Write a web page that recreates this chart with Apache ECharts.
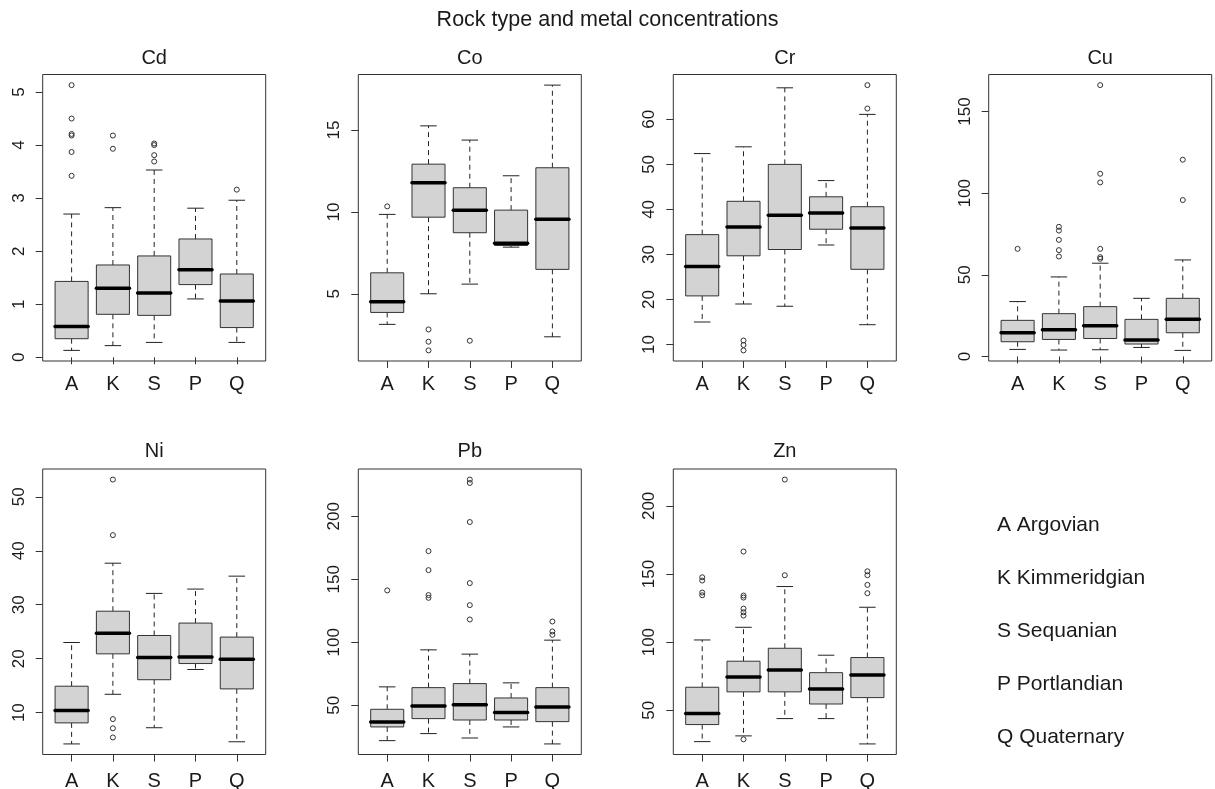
<!DOCTYPE html>
<html><head><meta charset="utf-8">
<script src="https://cdn.jsdelivr.net/npm/echarts@6/dist/echarts.min.js"></script>
<style>html,body{margin:0;padding:0;background:#fff}#c{width:1215px;height:789px}</style>
</head><body><div id="c"></div>
<script>
// ---------------- data ----------------
const categories = ['A', 'K', 'S', 'P', 'Q'];
const rockNames = ['Argovian', 'Kimmeridgian', 'Sequanian', 'Portlandian', 'Quaternary'];
const mainTitle = 'Rock type and metal concentrations';
const metals = ['Cd', 'Co', 'Cr', 'Cu', 'Ni', 'Pb', 'Zn'];

// per category: [lower whisker, Q1, median, Q3, upper whisker]
const cdBoxes = [[0.13,0.35,0.58,1.43,2.70],[0.22,0.81,1.30,1.74,2.82],[0.28,0.79,1.21,1.91,3.53],[1.10,1.37,1.65,2.23,2.81],[0.28,0.56,1.06,1.57,2.96]];
const cdOutliers = [[5.13,4.50,4.21,4.18,3.87,3.42],[4.18,3.93],[4.03,4.00,3.81,3.69],[],[3.16]];
const cdTicks = [0,1,2,3,4,5];

const coBoxes = [[3.13,3.86,4.51,6.28,9.85],[5.00,9.68,11.78,12.92,15.26],[5.59,8.73,10.11,11.48,14.39],[7.85,7.95,8.08,10.11,12.21],[2.37,6.49,9.56,12.70,17.75]];
const coOutliers = [[10.34],[2.82,2.07,1.54],[2.13],[],[]];
const coTicks = [5,10,15];

const crBoxes = [[15.0,20.8,27.3,34.4,52.4],[19.0,29.7,36.1,41.8,53.9],[18.5,31.1,38.7,50.0,67.0],[32.1,35.6,39.2,42.8,46.4],[14.4,26.7,35.9,40.6,61.1]];
const crOutliers = [[],[10.9,9.9,8.7],[],[],[67.6,62.4]];
const crTicks = [10,20,30,40,50,60];

const cuBoxes = [[4.3,9.0,14.5,22.1,33.6],[3.9,10.4,16.4,26.2,48.7],[4.1,11.0,18.8,30.5,57.1],[5.5,7.6,10.0,22.7,35.6],[3.7,14.5,22.7,35.6,59.1]];
const cuOutliers = [[65.9],[79.4,77.1,71.4,65.1,61.2],[166.2,111.9,106.6,65.9,60.8,59.8],[],[120.5,95.8]];
const cuTicks = [0,50,100,150];

const niBoxes = [[4.2,8.1,10.4,14.9,23.0],[13.4,20.9,24.7,28.8,37.7],[7.2,16.1,20.2,24.3,32.1],[18.0,19.1,20.3,26.6,32.9],[4.6,14.4,19.9,24.0,35.3]];
const niOutliers = [[],[53.2,42.9,8.8,7.1,5.4],[],[],[]];
const niTicks = [10,20,30,40,50];

const pbBoxes = [[21.9,32.8,36.7,46.8,64.6],[27.5,39.4,49.5,64.0,94.0],[24.0,38.3,50.5,67.2,90.6],[32.8,38.3,44.2,55.8,67.8],[19.3,37.0,48.7,64.0,101.7]];
const pbOutliers = [[141.2],[172.4,157.3,137.5,135.3],[229.2,226.5,195.5,147.0,129.5,118.1],[],[116.5,108.6,105.9]];
const pbTicks = [50,100,150,200];

const znBoxes = [[27.0,39.5,47.6,66.9,101.6],[31.2,63.5,74.5,86.0,110.9],[43.9,63.5,79.6,95.5,140.8],[43.9,54.6,65.7,77.6,90.4],[25.3,59.3,75.9,88.7,125.6]];
const znOutliers = [[147.6,145.2,136.4,134.4],[166.5,134.2,132.7,124.6,121.9,119.5,28.7],[219.3,149.1],[],[152.0,149.1,142.0,135.9]];
const znTicks = [50,100,150,200];

const panelBoxes = [cdBoxes, coBoxes, crBoxes, cuBoxes, niBoxes, pbBoxes, znBoxes];
const panelOutliers = [cdOutliers, coOutliers, crOutliers, cuOutliers, niOutliers, pbOutliers, znOutliers];
const panelTicks = [cdTicks, coTicks, crTicks, cuTicks, niTicks, pbTicks, znTicks];

// ---------------- layout ----------------
const colLeft = [42.7, 358.3, 673.3, 988.7];
const frameW = 223;
const rowTop = [74.5, 469];
const rowH = [286.5, 285.5];
const titleTop = [48, 441];
const xLabelMargin = [13, 17];
const INK = '#1a1a1a';
const FONT = 'Liberation Sans, Arial, Helvetica, sans-serif';

const grids = [], xAxes = [], yAxes = [], series = [], titles = [];

titles.push({ text: mainTitle, left: 'center', top: 9, padding: 0,
  textStyle: { fontFamily: FONT, fontSize: 21.5, fontWeight: 'normal', color: INK } });

function renderBox(params, api) {
  const i = api.value(0);
  const pLo = api.coord([i, api.value(1)]);
  const pQ1 = api.coord([i, api.value(2)]);
  const pMed = api.coord([i, api.value(3)]);
  const pQ3 = api.coord([i, api.value(4)]);
  const pHi = api.coord([i, api.value(5)]);
  const band = api.size([1, 0])[0];
  const bw = band * 0.8, sw = band * 0.4;
  const x = pMed[0];
  const dash = { stroke: '#222', lineWidth: 1, lineDash: [5, 4] };
  const solid = { stroke: '#222', lineWidth: 1 };
  return { type: 'group', children: [
    { type: 'line', shape: { x1: x, y1: pQ3[1], x2: x, y2: pHi[1] }, style: dash },
    { type: 'line', shape: { x1: x, y1: pQ1[1], x2: x, y2: pLo[1] }, style: dash },
    { type: 'line', shape: { x1: x - sw / 2, y1: pHi[1], x2: x + sw / 2, y2: pHi[1] }, style: solid },
    { type: 'line', shape: { x1: x - sw / 2, y1: pLo[1], x2: x + sw / 2, y2: pLo[1] }, style: solid },
    { type: 'rect', shape: { x: x - bw / 2, y: pQ3[1], width: bw, height: pQ1[1] - pQ3[1] },
      style: { fill: '#d3d3d3', stroke: '#333', lineWidth: 1 } },
    { type: 'line', shape: { x1: x - bw / 2, y1: pMed[1], x2: x + bw / 2, y2: pMed[1] },
      style: { stroke: '#000', lineWidth: 3.5, lineCap: 'round' } }
  ]};
}

metals.forEach((metal, p) => {
  const row = p < 4 ? 0 : 1;
  const col = p % 4;
  const left = colLeft[col];
  const top = rowTop[row];
  const h = rowH[row];
  const band = frameW / 5.4;
  const boxes = panelBoxes[p];
  const outl = panelOutliers[p];
  // R style range: data extent padded by 4%
  let lo = Infinity, hi = -Infinity;
  boxes.forEach((b, i) => {
    lo = Math.min(lo, b[0]); hi = Math.max(hi, b[4]);
    outl[i].forEach(v => { lo = Math.min(lo, v); hi = Math.max(hi, v); });
  });
  const pad = (hi - lo) * 0.04;
  const yMin = lo - pad, yMax = hi + pad;

  // frame grid
  const fg = grids.length;
  grids.push({ left: left, top: top, width: frameW, height: h, show: true,
    borderColor: '#333', borderWidth: 1, backgroundColor: 'transparent', outerBoundsMode: 'none', containLabel: false });
  xAxes.push({ gridIndex: fg, type: 'value', show: false, min: 0, max: 1 });
  yAxes.push({ gridIndex: fg, type: 'value', show: false, min: 0, max: 1 });
  // data grid
  const dg = grids.length;
  grids.push({ left: left + band * 0.2, top: top, width: band * 5, height: h, show: false,
    outerBoundsMode: 'none', containLabel: false });
  const xi = xAxes.length;
  xAxes.push({ gridIndex: dg, type: 'category', data: categories, boundaryGap: true,
    axisLine: { show: false },
    axisTick: { show: true, alignWithLabel: true, length: 7, lineStyle: { color: '#333', width: 1 } },
    axisLabel: { show: true, interval: 0, margin: xLabelMargin[row], fontFamily: FONT, fontSize: 20, color: INK },
    splitLine: { show: false } });
  const yi = yAxes.length;
  yAxes.push({ gridIndex: dg, type: 'value', min: yMin, max: yMax, offset: band * 0.2,
    axisLine: { show: false },
    axisTick: { show: true, length: 7, customValues: panelTicks[p], lineStyle: { color: '#333', width: 1 } },
    axisLabel: { show: true, rotate: 90, margin: 15, customValues: panelTicks[p], fontFamily: FONT, fontSize: 17, color: INK },
    splitLine: { show: false } });

  series.push({ type: 'custom', name: metal, xAxisIndex: xi, yAxisIndex: yi,
    renderItem: renderBox, encode: { x: 0, y: [1, 2, 3, 4, 5] },
    data: boxes.map((b, i) => [i].concat(b)), silent: true });
  const pts = [];
  outl.forEach((arr, i) => arr.forEach(v => pts.push([i, v])));
  series.push({ type: 'scatter', name: metal + ' outliers', xAxisIndex: xi, yAxisIndex: yi,
    data: pts, symbol: 'circle', symbolSize: 5,
    itemStyle: { color: 'rgba(0,0,0,0)', borderColor: '#333', borderWidth: 1, opacity: 1 }, silent: true });

  titles.push({ text: metal, left: left + frameW / 2, top: titleTop[row], textAlign: 'center', padding: 0,
    textStyle: { fontFamily: FONT, fontSize: 20, fontWeight: 'normal', color: INK } });
});

// legend text
titles.push({ text: categories.map((c, i) => c + ' ' + rockNames[i]).join('\n'), left: 997, top: 499, padding: 0,
  textStyle: { fontFamily: FONT, fontSize: 21, fontWeight: 'normal', color: INK, lineHeight: 53 } });

const chart = echarts.init(document.getElementById('c'), null, { renderer: 'canvas' });
chart.setOption({ animation: false, backgroundColor: '#fff', title: titles, grid: grids,
  xAxis: xAxes, yAxis: yAxes, series: series, tooltip: { show: false } });
</script></body></html>
